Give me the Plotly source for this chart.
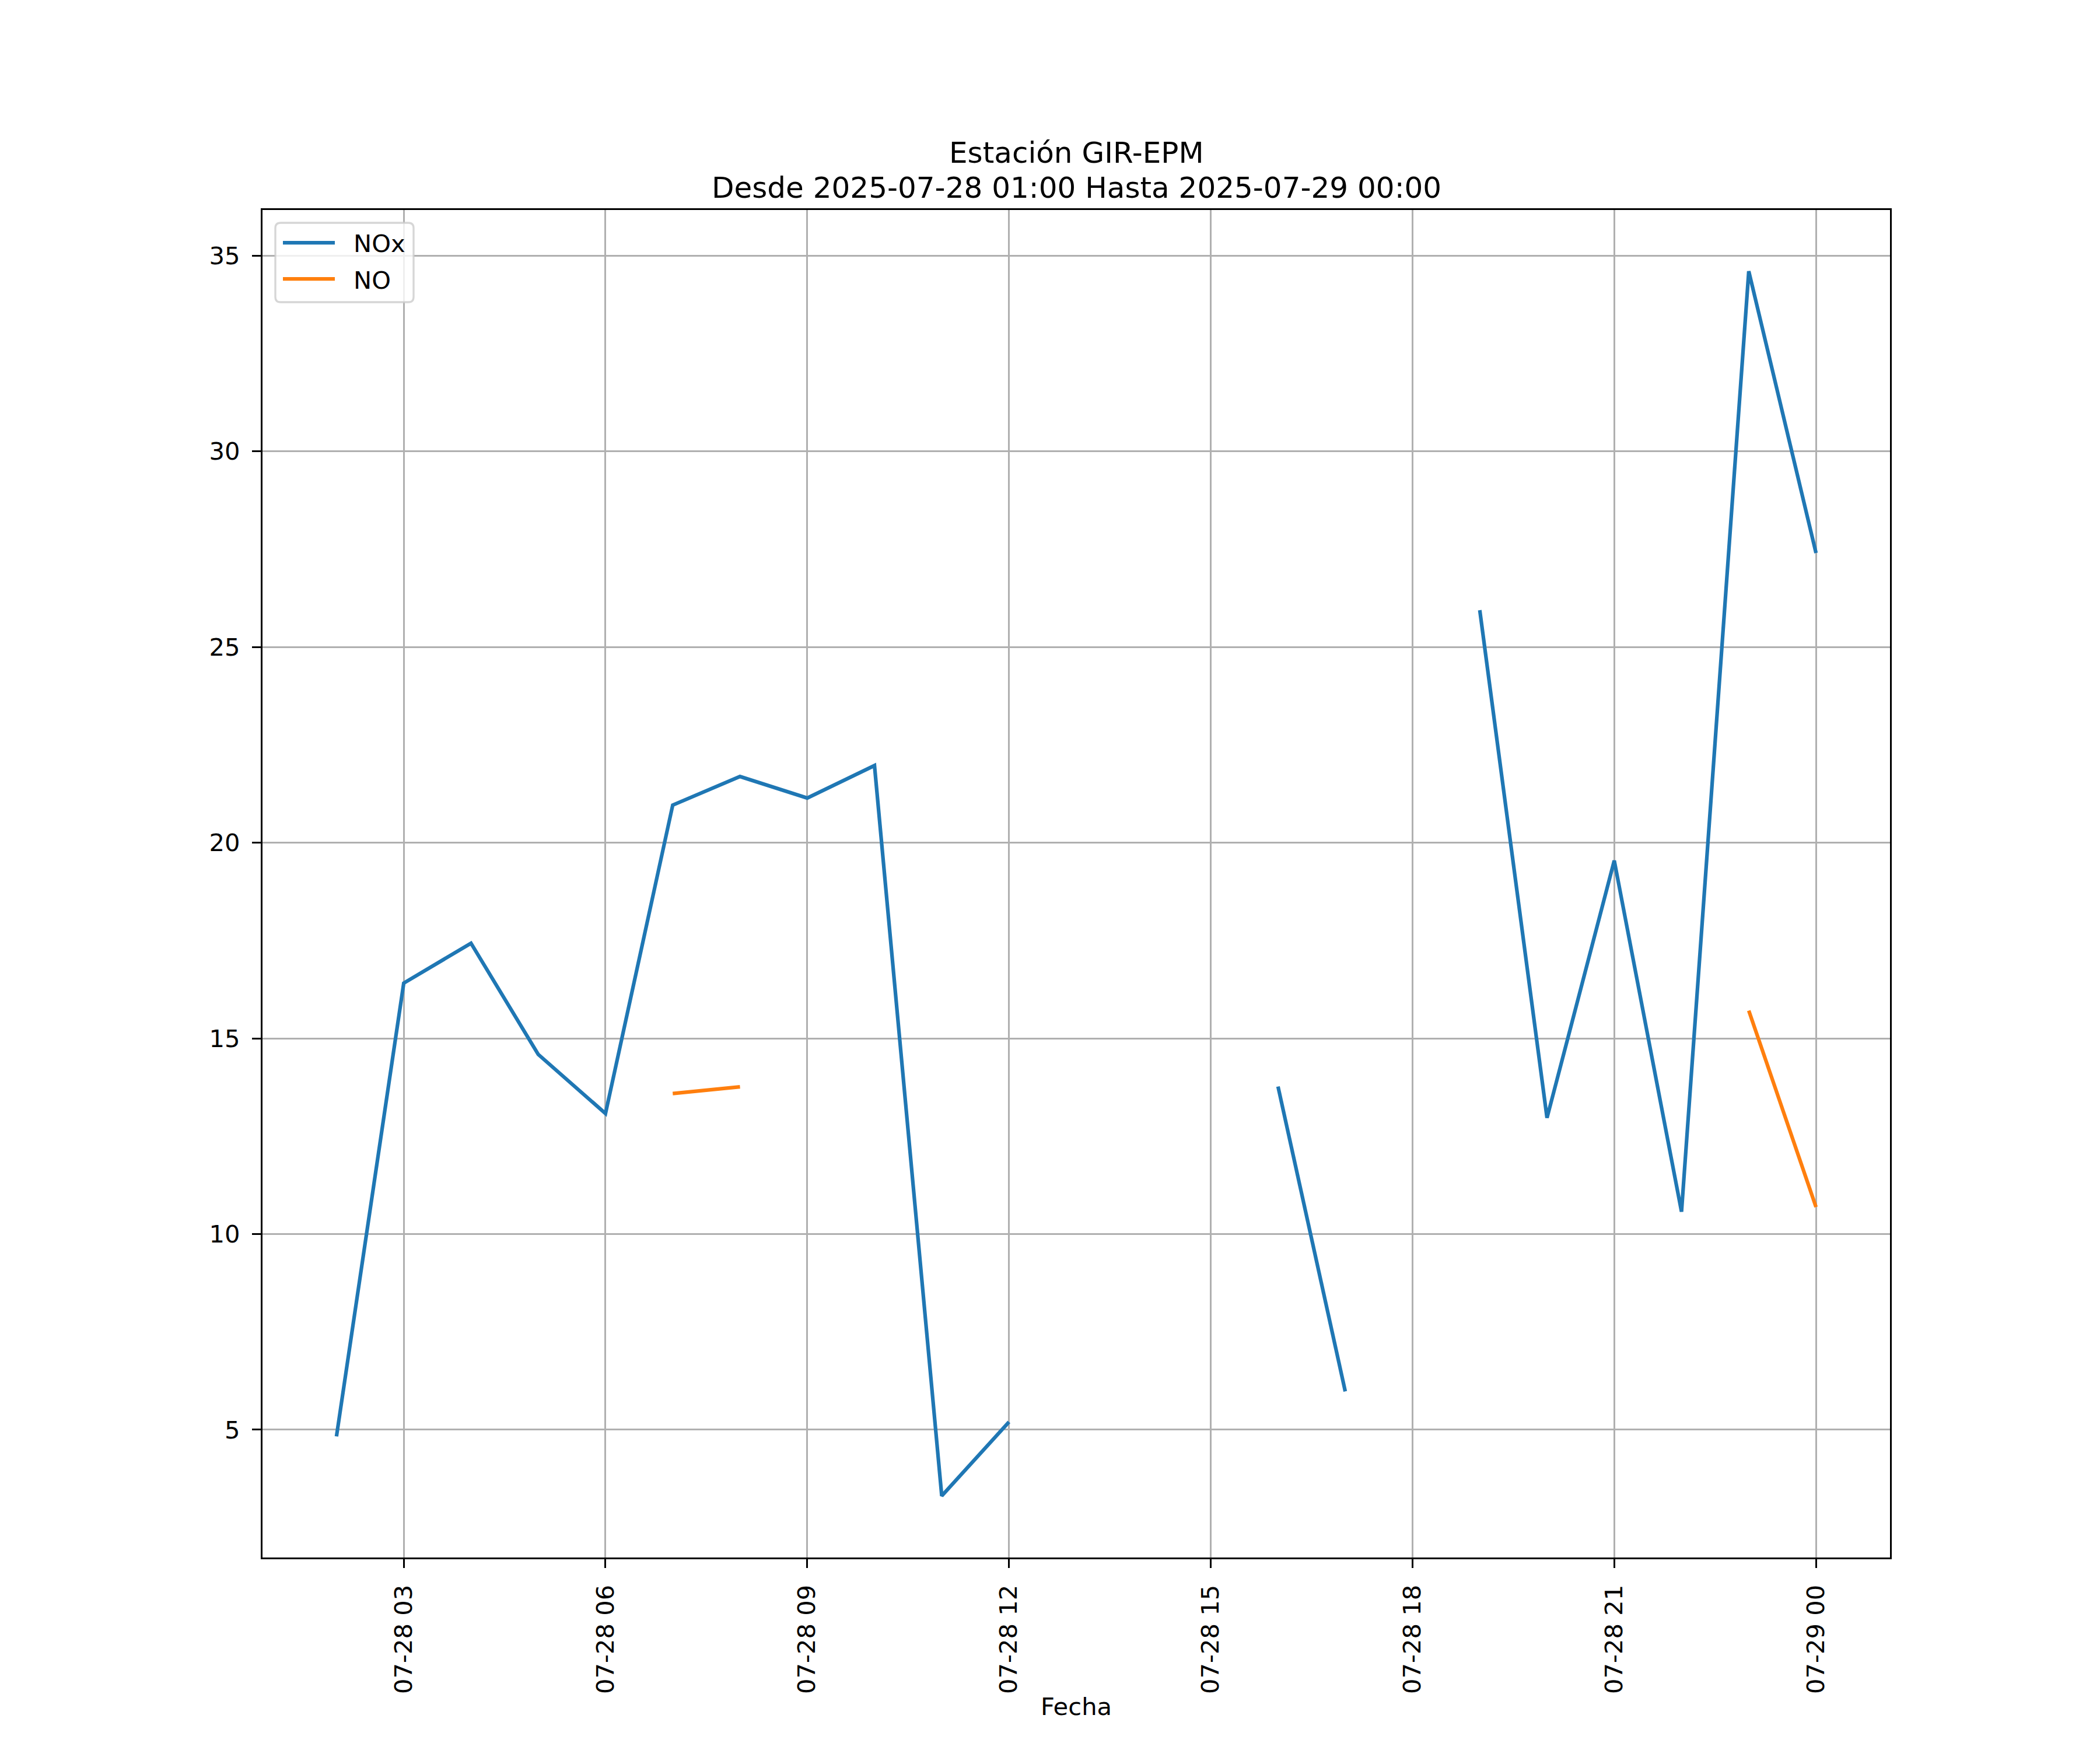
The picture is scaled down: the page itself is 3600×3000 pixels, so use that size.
import plotly.graph_objects as go

# ---- data ----
times = [
    "2025-07-28 02:00", "2025-07-28 03:00", "2025-07-28 04:00", "2025-07-28 05:00",
    "2025-07-28 06:00", "2025-07-28 07:00", "2025-07-28 08:00", "2025-07-28 09:00",
    "2025-07-28 10:00", "2025-07-28 11:00", "2025-07-28 12:00", "2025-07-28 13:00",
    "2025-07-28 14:00", "2025-07-28 15:00", "2025-07-28 16:00", "2025-07-28 17:00",
    "2025-07-28 18:00", "2025-07-28 19:00", "2025-07-28 20:00", "2025-07-28 21:00",
    "2025-07-28 22:00", "2025-07-28 23:00", "2025-07-29 00:00",
]
nox = [4.83, 16.41, 17.43, 14.59, 13.08, 20.96, 21.69, 21.14, 21.97, 3.31, 5.2,
       None, None, None, 13.77, 5.98, None, 25.94, 12.97, 19.54, 10.57, 34.6, 27.4]
no = [None, None, None, None, None, 13.59, 13.76, None, None, None, None,
      None, None, None, None, None, None, None, None, None, None, 15.71, 10.69]

series_names = ["NOx", "NO"]
series_colors = ["#1f77b4", "#ff7f0e"]

title_line1 = "Estación GIR-EPM"
title_line2 = "Desde 2025-07-28 01:00 Hasta 2025-07-29 00:00"
x_label = "Fecha"
x_range = ["2025-07-28 00:54", "2025-07-29 01:06"]
y_range = [1.7355, 36.1645]
y_ticks = [5, 10, 15, 20, 25, 30, 35]

FONT = "DejaVu Sans"
FS = 41.67
LW = 6.25
GRID = "#b0b0b0"

# plot area in page pixels (body margin of 8px compensated)
BODY = 8
L, T, W, H = 450, 360, 2790, 2310


def px(xp):
    return (xp - L) / W


def py(yp):
    return (T + H - yp) / H


fig = go.Figure()
for name, vals, col in zip(series_names, [nox, no], series_colors):
    fig.add_trace(go.Scatter(x=times, y=vals, mode="lines", name=name,
                             line=dict(color=col, width=LW), connectgaps=False))

# legend drawn like matplotlib's (upper left, framed, rounded)
x0, x1, y0, y1, r = 472, 709, 382, 518, 9
path = (f"M {px(x0 + r)},{py(y0)} L {px(x1 - r)},{py(y0)} "
        f"Q {px(x1)},{py(y0)} {px(x1)},{py(y0 + r)} "
        f"L {px(x1)},{py(y1 - r)} Q {px(x1)},{py(y1)} {px(x1 - r)},{py(y1)} "
        f"L {px(x0 + r)},{py(y1)} Q {px(x0)},{py(y1)} {px(x0)},{py(y1 - r)} "
        f"L {px(x0)},{py(y0 + r)} Q {px(x0)},{py(y0)} {px(x0 + r)},{py(y0)} Z")
shapes = [dict(type="path", path=path, xref="paper", yref="paper",
               fillcolor="rgba(255,255,255,0.8)",
               line=dict(color="rgba(204,204,204,0.8)", width=3.3), layer="above")]
annotations = []
row_y = [416, 478]
for name, col, ry in zip(series_names, series_colors, row_y):
    shapes.append(dict(type="line", xref="paper", yref="paper",
                       x0=px(485), x1=px(574), y0=py(ry), y1=py(ry),
                       line=dict(color=col, width=LW), layer="above"))
    annotations.append(dict(text=name, xref="paper", yref="paper", x=px(604), y=py(ry + 2),
                            xanchor="left", yanchor="middle", showarrow=False,
                            font=dict(size=FS, family=FONT, color="black")))

# title (two centred lines)
annotations.append(dict(text=title_line1, xref="paper", yref="paper", x=0.5, y=py(262),
                        xanchor="center", yanchor="middle", showarrow=False,
                        font=dict(size=50, family=FONT, color="black")))
annotations.append(dict(text=title_line2, xref="paper", yref="paper", x=0.5, y=py(322),
                        xanchor="center", yanchor="middle", showarrow=False,
                        font=dict(size=50, family=FONT, color="black")))

fig.update_layout(
    width=3600, height=3000, autosize=False,
    paper_bgcolor="white", plot_bgcolor="white",
    margin=dict(l=L - BODY, r=3600 - (L - BODY) - W, t=T - BODY, b=3000 - (T - BODY) - H, pad=0),
    font=dict(family=FONT, size=FS, color="black"),
    showlegend=False,
    shapes=shapes,
    annotations=annotations,
)

fig.update_xaxes(
    type="date", range=x_range, automargin=False,
    tick0="2025-07-28 00:00", dtick=3 * 3600 * 1000, tickformat="%m-%d %H",
    tickangle=-90, ticks="outside", ticklen=15, tickwidth=3.3, tickcolor="black",
    ticklabelstandoff=12,
    showgrid=True, gridcolor=GRID, gridwidth=3.3, zeroline=False,
    showline=True, linecolor="black", linewidth=3.3, mirror=True,
    tickfont=dict(size=FS, family=FONT, color="black"),
    title=dict(text=x_label, standoff=8, font=dict(size=FS, family=FONT, color="black")),
)
fig.update_yaxes(
    range=y_range, automargin=False, tickvals=y_ticks,
    ticks="outside", ticklen=15, tickwidth=3.3, tickcolor="black",
    ticklabelstandoff=12,
    showgrid=True, gridcolor=GRID, gridwidth=3.3, zeroline=False,
    showline=True, linecolor="black", linewidth=3.3, mirror=True,
    tickfont=dict(size=FS, family=FONT, color="black"),
)

fig.write_html("out.html")
